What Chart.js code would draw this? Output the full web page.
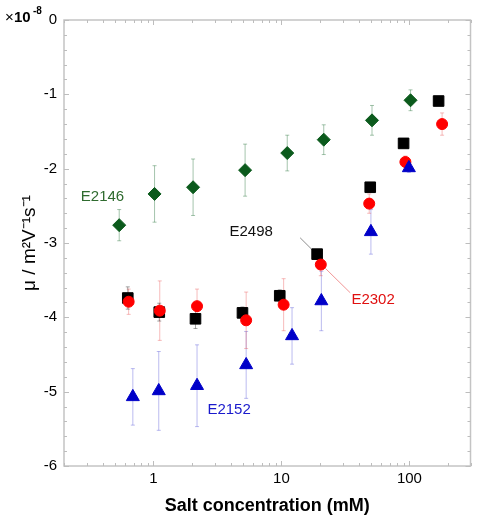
<!DOCTYPE html>
<html>
<head>
<meta charset="utf-8">
<script src="https://cdn.jsdelivr.net/npm/chart.js@4.4.0/dist/chart.umd.min.js"></script>
<style>
  body { margin: 0; background: #fff; }
  #wrap { width: 479px; height: 521px; }
</style>
</head>
<body>
<div id="wrap"><canvas id="chart"></canvas></div>
<script>
// salt concentration (mM) and mobility (x1e-8 m2/Vs) for each sample
var e2146X = [0.54, 1.02, 2.04, 5.2, 11.1, 21.4, 51, 102];
var e2146Y = [-2.76, -2.34, -2.25, -2.02, -1.79, -1.61, -1.35, -1.08];
var e2146Err = [0.21, 0.38, 0.38, 0.35, 0.24, 0.2, 0.2, 0.14];

var e2498X = [0.63, 1.11, 2.13, 4.96, 9.7, 19.0, 49.4, 90, 169];
var e2498Y = [-3.74, -3.93, -4.02, -3.94, -3.71, -3.15, -2.25, -1.66, -1.09];
var e2498Err = [0.15, 0.12, 0.13, 0.08, 0.08, 0.06, 0.06, 0.05, 0.05];

var e2302X = [0.64, 1.12, 2.19, 5.3, 10.4, 20.3, 48.5, 93, 180];
var e2302Y = [-3.79, -3.91, -3.85, -4.04, -3.83, -3.29, -2.47, -1.91, -1.4];
var e2302Err = [0.17, 0.4, 0.23, 0.38, 0.35, 0.15, 0.13, 0.08, 0.15];

var e2152X = [0.69, 1.1, 2.19, 5.3, 12.1, 20.5, 50, 99];
var e2152Y = [-5.07, -4.99, -4.92, -4.64, -4.25, -3.78, -2.85, -1.99];
var e2152Err = [0.38, 0.53, 0.55, 0.45, 0.38, 0.4, 0.3, 0.06];

var xTickValues = [1, 10, 100];
var yTickValues = [0, -1, -2, -3, -4, -5, -6];

function toPoints(xs, ys) {
    return xs.map(function(x, i) { return { x: x, y: ys[i] }; });
}

// labels next to the series, placed in data coordinates
var seriesLabels = [
    { text: 'E2146', x: 0.4, y: -2.38, color: '#2f6b2f' },
    { text: 'E2498', x: 5.8, y: -2.85, color: '#111111' },
    { text: 'E2302', x: 52, y: -3.77, color: '#e01010' },
    { text: 'E2152', x: 3.9, y: -5.25, color: '#1a1acc' }
];
var leaderLines = [
    { x1: 14, y1: -2.93, x2: 17.6, y2: -3.1, color: 'rgba(0,0,0,0.45)' },
    { x1: 22, y1: -3.34, x2: 34.5, y2: -3.67, color: 'rgba(230,60,60,0.55)' }
];

var errorBars = {
    id: 'errorBars',
    beforeDatasetsDraw: function(chart) {
        var ctx = chart.ctx;
        var xs = chart.scales.x, ys = chart.scales.y;
        ctx.save();
        chart.data.datasets.forEach(function(ds) {
            ctx.strokeStyle = ds.errorColor;
            ctx.lineWidth = 1;
            ds.data.forEach(function(p, i) {
                var err = ds.errors[i];
                var px = xs.getPixelForValue(p.x);
                var top = ys.getPixelForValue(p.y + err);
                var bot = ys.getPixelForValue(p.y - err);
                ctx.beginPath();
                ctx.moveTo(px, top); ctx.lineTo(px, bot);
                ctx.moveTo(px - 2, top); ctx.lineTo(px + 2, top);
                ctx.moveTo(px - 2, bot); ctx.lineTo(px + 2, bot);
                ctx.stroke();
            });
        });
        ctx.restore();
    }
};

var frameAndText = {
    id: 'frameAndText',
    beforeDatasetsDraw: function(chart) {
        var ctx = chart.ctx;
        var a = chart.chartArea;
        var xs = chart.scales.x, ys = chart.scales.y;
        ctx.save();
        ctx.strokeStyle = '#c4c4c4';
        ctx.lineWidth = 1.5;
        ctx.strokeRect(a.left, a.top, a.right - a.left, a.bottom - a.top);

        // minor ticks, drawn inward on all four sides
        ctx.strokeStyle = '#bdbdbd';
        ctx.lineWidth = 1;
        ctx.beginPath();
        for (var d = 0.1; d <= 100; d *= 10) {
            for (var m = 1; m <= 9; m++) {
                var v = d * m;
                if (v < 0.2 || v > 300) continue;
                var px = Math.round(xs.getPixelForValue(v)) + 0.5;
                var len = (m === 1) ? 5 : 3;
                ctx.moveTo(px, a.bottom); ctx.lineTo(px, a.bottom - len);
                ctx.moveTo(px, a.top); ctx.lineTo(px, a.top + len);
            }
        }
        for (var k = 0; k <= 30; k++) {
            var yv = -k * 0.2;
            var py = Math.round(ys.getPixelForValue(yv)) + 0.5;
            var l = (k % 5 === 0) ? 5 : 3;
            ctx.moveTo(a.left, py); ctx.lineTo(a.left + l, py);
            ctx.moveTo(a.right, py); ctx.lineTo(a.right - l, py);
        }
        ctx.stroke();

        // leader lines
        leaderLines.forEach(function(ln) {
            ctx.strokeStyle = ln.color;
            ctx.beginPath();
            ctx.moveTo(xs.getPixelForValue(ln.x1), ys.getPixelForValue(ln.y1));
            ctx.lineTo(xs.getPixelForValue(ln.x2), ys.getPixelForValue(ln.y2));
            ctx.stroke();
        });

        // series labels
        ctx.font = '15px "Liberation Sans", Arial, sans-serif';
        ctx.textAlign = 'center';
        ctx.textBaseline = 'middle';
        seriesLabels.forEach(function(lb) {
            ctx.fillStyle = lb.color;
            ctx.fillText(lb.text, xs.getPixelForValue(lb.x), ys.getPixelForValue(lb.y));
        });

        // exponent marker
        ctx.fillStyle = '#000';
        ctx.textAlign = 'left';
        ctx.textBaseline = 'alphabetic';
        ctx.font = '15px "Liberation Sans", Arial, sans-serif';
        ctx.fillText('\u00d7', 5, 22);
        ctx.font = 'bold 15px "Liberation Sans", Arial, sans-serif';
        ctx.fillText('10', 14, 22);
        ctx.font = 'bold 10px "Liberation Sans", Arial, sans-serif';
        ctx.fillText('-8', 33, 14);
        ctx.restore();
    }
};

new Chart(document.getElementById('chart'), {
    type: 'scatter',
    data: {
        datasets: [
            {
                label: 'E2146', data: toPoints(e2146X, e2146Y), errors: e2146Err,
                pointStyle: 'rectRot', pointRadius: 6.5, backgroundColor: '#0b5a1c', borderColor: '#0b5a1c',
                errorColor: 'rgba(30,110,50,0.4)'
            },
            {
                label: 'E2152', data: toPoints(e2152X, e2152Y), errors: e2152Err,
                pointStyle: 'triangle', pointRadius: 7.5, backgroundColor: '#0000c8', borderColor: '#0000c8',
                errorColor: 'rgba(60,60,210,0.35)'
            },
            {
                label: 'E2302', data: toPoints(e2302X, e2302Y), errors: e2302Err,
                pointStyle: 'circle', pointRadius: 5.5, backgroundColor: '#ff0000', borderColor: '#ff0000',
                errorColor: 'rgba(230,60,60,0.35)'
            },
            {
                label: 'E2498', data: toPoints(e2498X, e2498Y), errors: e2498Err,
                pointStyle: 'rect', pointRadius: 7.5, backgroundColor: '#000000', borderColor: '#000000',
                errorColor: 'rgba(0,0,0,0.35)'
            }
        ]
    },
    options: {
        responsive: true,
        maintainAspectRatio: false,
        animation: false,
        layout: { padding: { top: 20, right: 7, left: 0, bottom: 0 } },
        plugins: { legend: { display: false }, tooltip: { enabled: false } },
        scales: {
            x: {
                type: 'logarithmic',
                min: 0.2, max: 300,
                afterBuildTicks: function(scale) {
                    scale.ticks = xTickValues.map(function(v) { return { value: v }; });
                },
                afterFit: function(scale) { scale.height = 55; },
                ticks: {
                    color: '#000',
                    font: { family: '"Liberation Sans", Arial, sans-serif', size: 15 },
                    padding: 4,
                    maxRotation: 0,
                    callback: function(v) { return String(v); }
                },
                grid: { display: false, drawTicks: false },
                border: { display: false },
                title: {
                    display: true, text: 'Salt concentration (mM)', color: '#000',
                    font: { family: '"Liberation Sans", Arial, sans-serif', size: 18, weight: 'bold' },
                    padding: { top: 4, bottom: 4 }
                }
            },
            y: {
                min: -6, max: 0,
                afterBuildTicks: function(scale) {
                    scale.ticks = yTickValues.map(function(v) { return { value: v }; });
                },
                afterFit: function(scale) { scale.width = 64; },
                ticks: {
                    color: '#000',
                    font: { family: '"Liberation Sans", Arial, sans-serif', size: 15 },
                    padding: 7
                },
                grid: { display: false, drawTicks: false },
                border: { display: false },
                title: {
                    display: true, text: '\u03bc / m\u00b2V\u207b\u00b9s\u207b\u00b9', color: '#000',
                    font: { family: '"Liberation Sans", Arial, sans-serif', size: 19 },
                    padding: { top: 18, bottom: 0 }
                }
            }
        }
    },
    plugins: [frameAndText, errorBars]
});
</script>
</body>
</html>
